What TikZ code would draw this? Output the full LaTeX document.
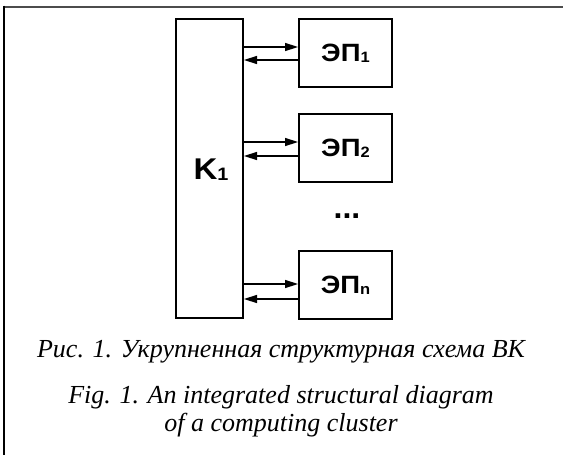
\documentclass[tikz,border=0pt]{standalone}
\usepackage{fontspec}
\setmainfont{Liberation Serif}
\newfontfamily\blockfont{Liberation Sans}
\usetikzlibrary{arrows.meta,calc}
% block label: wide bold sans with a small index
\newcommand{\blk}[2]{\scalebox{1.1}[1]{\blockfont\bfseries\fontsize{25}{27}\selectfont #1\raisebox{-1pt}{\fontsize{15}{15}\selectfont #2}}}
\tikzset{
  unit/.style={draw=black, line width=2pt, rectangle, inner sep=0pt, minimum width=93pt, minimum height=68pt},
  hub/.style={draw=black, line width=2pt, rectangle, inner sep=0pt, minimum width=67pt, minimum height=299pt},
  link/.style={line width=1.5pt, -{Triangle[length=13pt,width=8pt]}},
  caption/.style={font=\itshape\fontsize{26}{28}\selectfont, align=center, inner sep=0pt, anchor=base}
}
\begin{document}
\begin{tikzpicture}[x=1pt, y=-1pt]
  \useasboundingbox (0,0) rectangle (563,455);
  % page frame
  \draw[black!70, line width=2pt] (3,6.5) -- (563,6.5);
  \draw[black, line width=2pt] (3.5,5.5) -- (3.5,455);

  % main block and processing elements
  \node[hub] (K) at (209.5,168.5) {};
  \node (Klabel) at (211,170) {\scalebox{1.1}[1]{\blockfont\bfseries\fontsize{30}{32}\selectfont K\raisebox{-1pt}{\fontsize{18}{18}\selectfont 1}}};
  \node[unit] (E1) at (345.5,53) {\blk{ЭП}{1}};
  \node[unit] (E2) at (345.5,148) {\blk{ЭП}{2}};
  \node[unit] (E3) at (345.5,285) {\blk{ЭП}{n}};
  \node (dots) at (347,216) {{\blockfont\bfseries\fontsize{32}{32}\selectfont ...}};

  % two-way links
  \draw[link] ([yshift=6pt]K.east |- E1.west) -- ([yshift=6pt]E1.west);
  \draw[link] ([yshift=-7pt]E1.west) -- ([yshift=-7pt]K.east |- E1.west);
  \draw[link] ([yshift=6pt]K.east |- E2.west) -- ([yshift=6pt]E2.west);
  \draw[link] ([yshift=-8pt]E2.west) -- ([yshift=-8pt]K.east |- E2.west);
  \draw[link] ([xshift=-2pt,yshift=1pt]K.east |- E3.west) -- ([yshift=1pt]E3.west);
  \draw[link] ([yshift=-14pt]E3.west) -- ([yshift=-14pt]K.east |- E3.west);

  % captions
  \node[caption] (cru) at (281,357) {Рис. 1. Укрупненная структурная схема ВК};
  \node[caption] (cen) at (281,431) {Fig. 1. An integrated structural diagram\\ of a computing cluster};
\end{tikzpicture}
\end{document}
